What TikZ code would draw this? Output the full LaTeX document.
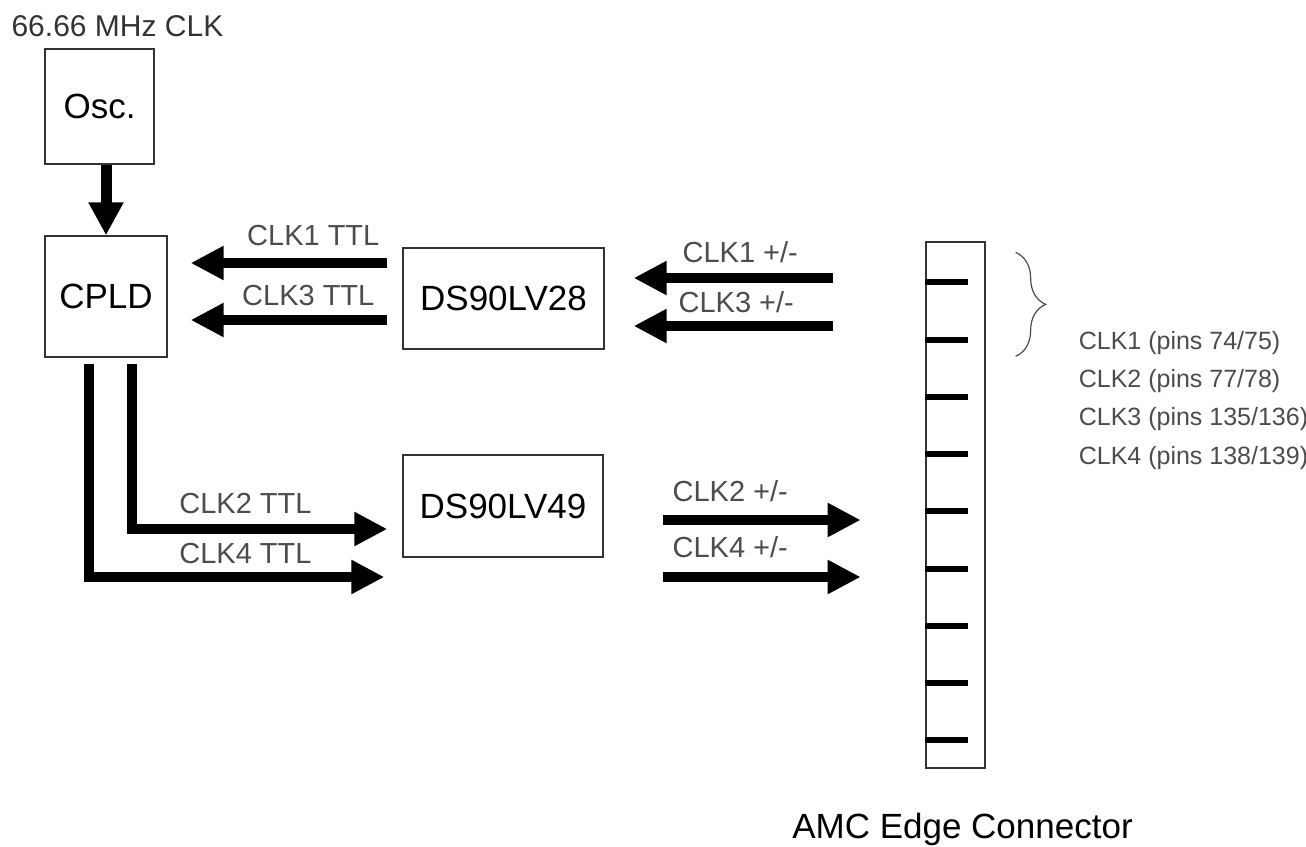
\documentclass[tikz,border=0pt]{standalone}
\usepackage{fontspec}
\setmainfont{Liberation Sans}
\usetikzlibrary{arrows.meta,positioning,calc,decorations.pathreplacing}

\begin{document}
\begin{tikzpicture}[
  x=1pt, y=-1pt,
  chip/.style={
    draw=black!80,
    line width=1.3pt,
    inner sep=0pt,
    font=\fontsize{35}{40}\selectfont
  },
  bus/.style={
    line width=10pt,
    -{Triangle[length=33pt,width=32pt]}
  },
  lab/.style={
    font=\fontsize{29}{34}\selectfont,
    text=black!70,
    inner sep=0pt
  },
  pinlab/.style={
    font=\fontsize{25}{30}\selectfont,
    text=black!70,
    inner sep=0pt,
    anchor=base west
  },
  pin/.style={
    line width=6pt
  }
]

\useasboundingbox (0,0) rectangle (1306,846);

% Blocks
\node[chip, minimum width=109pt, minimum height=115pt] (osc) at (99.5,106.5) {Osc.};
\node[chip, minimum width=122pt, minimum height=121pt] (cpld) at (106,296.5) {CPLD};
\node[chip, minimum width=201pt, minimum height=101pt] (ds28) at (503.5,298.5) {DS90LV28};
\node[chip, minimum width=200pt, minimum height=102pt] (ds49) at (503,506) {DS90LV49};
\node[draw=black!80, line width=1.3pt, inner sep=0pt,
  minimum width=59pt, minimum height=526pt] (amc) at (955.5,505) {};

\node[lab, anchor=base west, text=black!80, font=\fontsize{30}{34}\selectfont] (freq)
  at ($(osc.north west)+(-33,-12)$) {66.66 MHz CLK};
\node[anchor=base, inner sep=0pt, font=\fontsize{35}{40}\selectfont] (amclab)
  at ($(amc.south)+(7,70)$) {AMC Edge Connector};

% Oscillator to CPLD
\draw[bus, line width=11pt, -{Triangle[length=33pt,width=33pt]}] (osc.south -| cpld.north) -- (cpld.north);

% DS90LV28 to CPLD
\draw[bus] ($(ds28.west)+(-15,-35.5)$) -- ($(cpld.east)+(23,-33.5)$)
  node[lab, pos=0, anchor=base east, xshift=-3pt, yshift=18pt] {CLK1 TTL};
\draw[bus] ($(ds28.west)+(-15,21.5)$) -- ($(cpld.east)+(23,23.5)$)
  node[lab, pos=0, anchor=base east, xshift=-8pt, yshift=15pt] {CLK3 TTL};

% Connector to DS90LV28
\draw[bus] ($(ds28.east)+(228,-20.5)$) -- ($(ds28.east)+(29,-20.5)$)
  node[lab, pos=1, anchor=base west, xshift=44pt, yshift=16pt] {CLK1 +/-};
\draw[bus] ($(ds28.east)+(228,27.5)$) -- ($(ds28.east)+(29,27.5)$)
  node[lab, pos=1, anchor=base west, xshift=40pt, yshift=14pt] {CLK3 +/-};

% CPLD to DS90LV49
\draw[bus] ($(cpld.south)+(26,6)$) |- ($(ds49.west)+(-15,23)$)
  node[lab, pos=1, anchor=base west, xshift=-213pt, yshift=16pt] {CLK2 TTL};
\draw[bus] ($(cpld.south)+(-17,6)$) |- ($(ds49.west)+(-18,71)$)
  node[lab, pos=1, anchor=base west, xshift=-210pt, yshift=14pt] {CLK4 TTL};

% DS90LV49 to connector
\draw[bus] ($(ds49.east)+(59,14)$) -- ($(ds49.east)+(257,14)$)
  node[lab, pos=0, anchor=base west, xshift=5pt, yshift=19pt] {CLK2 +/-};
\draw[bus] ($(ds49.east)+(59,71)$) -- ($(ds49.east)+(257,71)$)
  node[lab, pos=0, anchor=base west, xshift=5pt, yshift=20pt] {CLK4 +/-};

% Connector pins
\foreach \i in {0,...,8}
  \draw[pin] ($(amc.north west)+(0,41+57.25*\i)$) -- ++(43,0);

\draw[decorate, decoration={brace, amplitude=30pt, aspect=0.5}, black!70, line width=1.2pt]
  ($(amc.north east)+(30,11)$) -- ($(amc.north east)+(30,115)$);

\foreach \n/\a/\b [count=\k from 0] in {1/74/75, 2/77/78, 3/135/136, 4/138/139}
  \node[pinlab] (pin\n) at ($(amc.north east)+(93,108+38.3*\k)$) {CLK\n{} (pins \a/\b)};

\end{tikzpicture}
\end{document}
